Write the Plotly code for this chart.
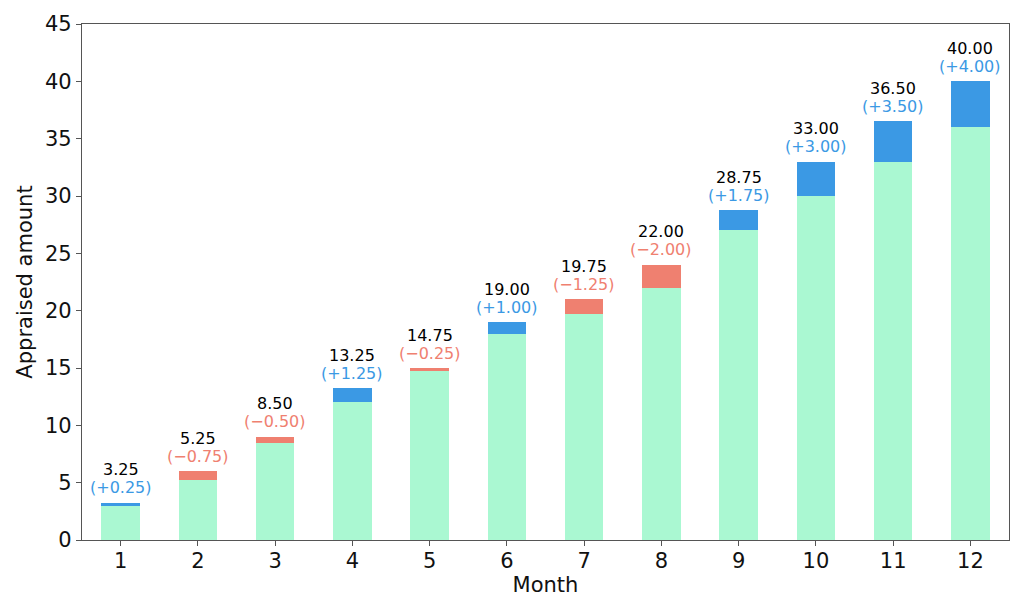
import plotly.graph_objects as go

months = [1, 2, 3, 4, 5, 6, 7, 8, 9, 10, 11, 12]
values = [3.25, 5.25, 8.50, 13.25, 14.75, 19.00, 19.75, 22.00, 28.75, 33.00, 36.50, 40.00]
changes = [0.25, -0.75, -0.50, 1.25, -0.25, 1.00, -1.25, -2.00, 1.75, 3.00, 3.50, 4.00]

BASE_C = "#aaf8d2"
POS_C = "#3b99e4"
NEG_C = "#ef8070"
FRAME = "#555555"

base = [v - c if c > 0 else v for v, c in zip(values, changes)]
delta = [abs(c) for c in changes]
dcolors = [POS_C if c > 0 else NEG_C for c in changes]
tops = [b + d for b, d in zip(base, delta)]

fig = go.Figure()
fig.add_trace(go.Bar(x=months, y=base, marker_color=BASE_C, width=0.5,
                     marker_line_width=0, showlegend=False))
fig.add_trace(go.Bar(x=months, y=delta, marker_color=dcolors, width=0.5,
                     marker_line_width=0, showlegend=False))

for m, v, c, t in zip(months, values, changes, tops):
    sign = "+" if c > 0 else "\u2212"
    col = POS_C if c > 0 else NEG_C
    fig.add_annotation(x=m, y=t, xref="x", yref="y", text=f"{v:.2f}",
                       showarrow=False, yanchor="middle", yshift=33,
                       font=dict(size=16, color="black", family="DejaVu Sans"))
    fig.add_annotation(x=m, y=t, xref="x", yref="y",
                       text=f"({sign}{abs(c):.2f})",
                       showarrow=False, yanchor="middle", yshift=15,
                       font=dict(size=16, color=col, family="DejaVu Sans"))

fig.update_layout(
    barmode="stack",
    width=1008, height=598,
    margin=dict(l=74, r=7, t=16, b=66, autoexpand=False),
    plot_bgcolor="white", paper_bgcolor="white",
    font=dict(family="DejaVu Sans", size=21, color="#111111"),
)
fig.update_xaxes(range=[0.5, 12.5], tickmode="array", tickvals=months,
                 ticktext=[str(m) for m in months], automargin=False,
                 ticklabelstandoff=-3,
                 title=dict(text="Month", font=dict(size=21), standoff=0),
                 showline=True, linecolor=FRAME, linewidth=1.3, mirror=True,
                 ticks="outside", ticklen=5, tickcolor=FRAME, showgrid=False,
                 zeroline=False)
fig.update_yaxes(range=[0, 45], tickvals=list(range(0, 46, 5)), automargin=False,
                 title=dict(text="Appraised amount", font=dict(size=21), standoff=6),
                 showline=True, linecolor=FRAME, linewidth=1.3, mirror=True,
                 ticks="outside", ticklen=5, tickcolor=FRAME, showgrid=False,
                 zeroline=False)

fig.write_html("out.html")
